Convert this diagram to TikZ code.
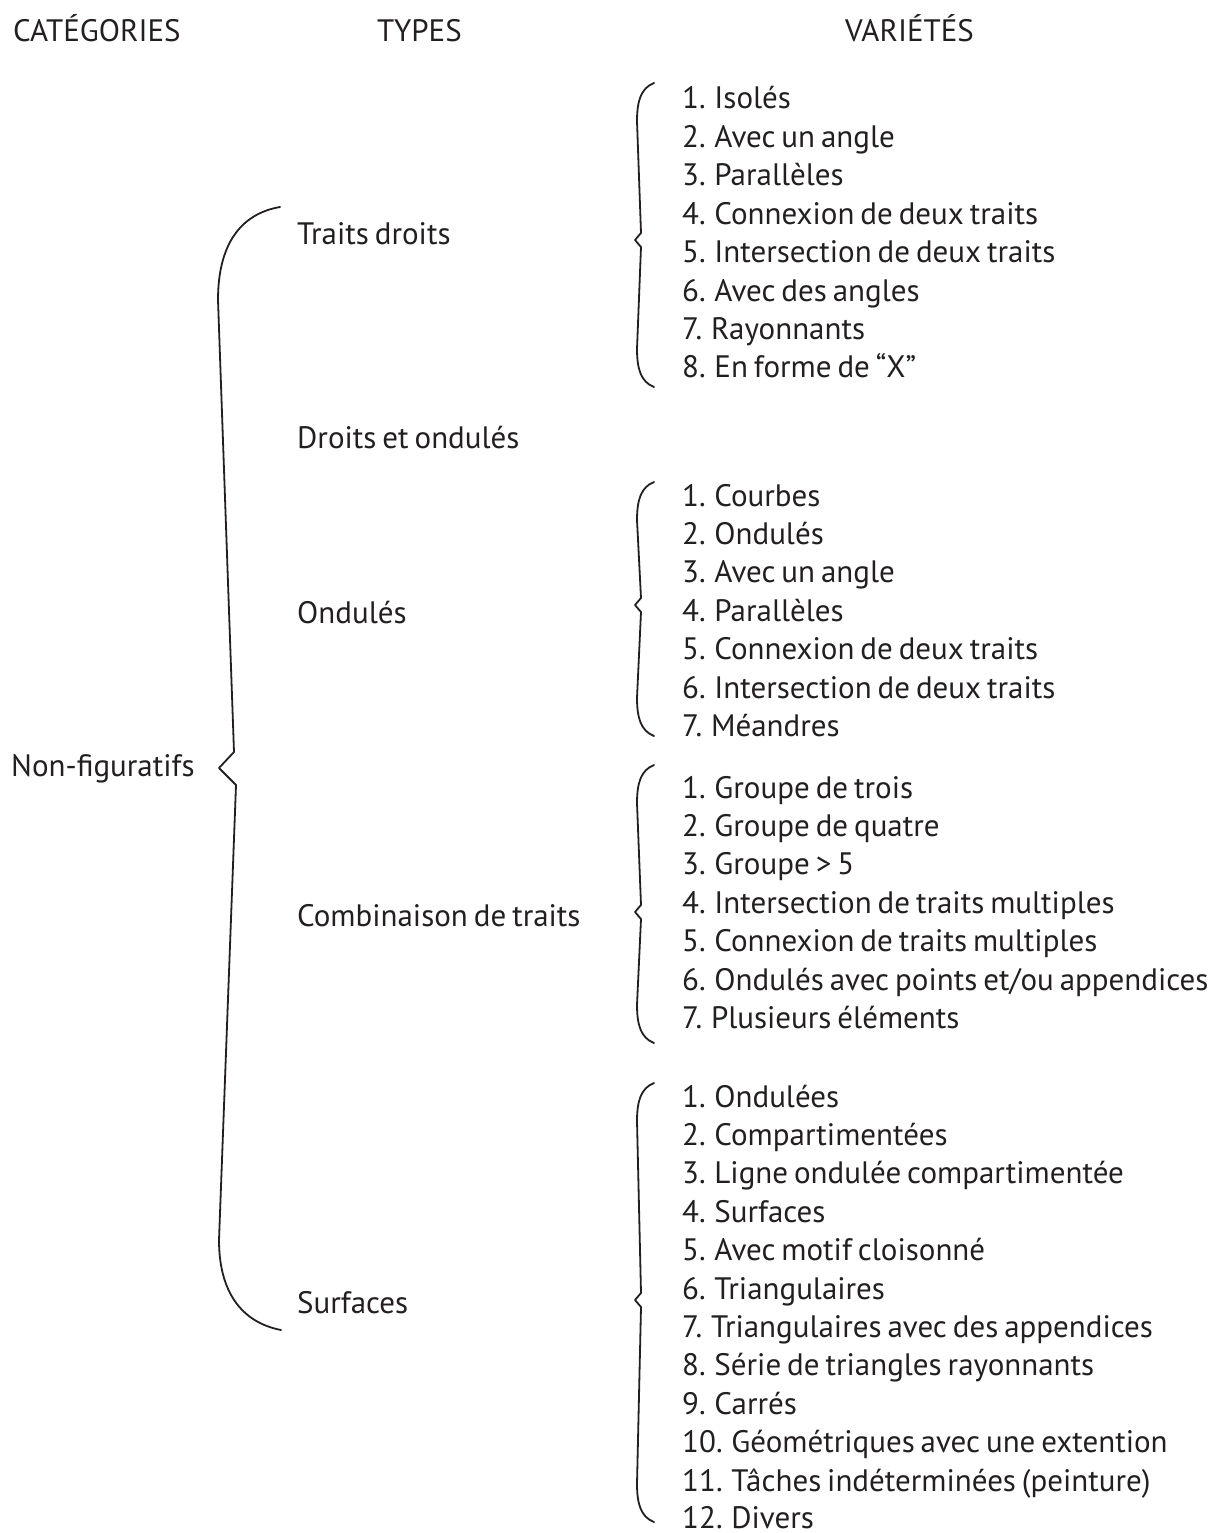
\documentclass[tikz,border=0pt]{standalone}
\usepackage{fontspec}
\setmainfont[WordSpace=0.72]{PT Sans}
\definecolor{ink}{HTML}{231F20}
\usetikzlibrary{positioning, calc}
\tikzset{
  txt/.style={anchor=base west, inner sep=0pt, text=ink,
    font=\fontsize{31}{36}\selectfont},
  hdr/.style={txt},
  cat/.style={txt},
  typ/.style={txt},
  var/.style={txt},
  brc/.style={draw=ink, line width=1.8pt, line join=round, line cap=round},
}
% small brace: top y, tip y, bottom y
\newcommand{\varbrace}[3]{%
  \draw[brc] (654,#1) .. controls (641,#1+5) and (637,#1+18) .. (637,#1+38)
    -- (641,#2-7) -- (635,#2) -- (641,#2+7) -- (637,#3-38)
    .. controls (637,#3-18) and (641,#3-5) .. (654,#3);}

\begin{document}
\begin{tikzpicture}[x=1pt, y=-1pt]
    \useasboundingbox (0,0) rectangle (1225,1533);

    % column headers
    \node[hdr] (hcat) at (13,42) {CATÉGORIES};
    \node[hdr] (htyp) at (377,42) {TYPES};
    \node[hdr] (hvar) at (845,42) {VARIÉTÉS};

    % category
    \node[cat] (nonfig) at (11,776) {Non-figuratifs};

    % types
    \node[typ] (tdroits) at (297,244) {Traits droits};
    \node[typ] (tdrond) at (297,448) {Droits et ondulés};
    \node[typ] (tondul) at (297,623) {Ondulés};
    \node[typ] (tcomb) at (297,926) {Combinaison de traits};
    \node[typ] (tsurf) at (297,1313) {Surfaces};

    % traits droits
    \node[var] (d1) at (682,109.0) {1. Isolés};
    \node[var] (d2) at (682,147.4) {2. Avec un angle};
    \node[var] (d3) at (682,185.8) {3. Parallèles};
    \node[var] (d4) at (682,224.2) {4. Connexion de deux traits};
    \node[var] (d5) at (682,262.6) {5. Intersection de deux traits};
    \node[var] (d6) at (682,301.0) {6. Avec des angles};
    \node[var] (d7) at (682,339.4) {7. Rayonnants};
    \node[var] (d8) at (682,377.8) {8. En forme de “X”};

    % ondules
    \node[var] (o1) at (682,506.0) {1. Courbes};
    \node[var] (o2) at (682,544.4) {2. Ondulés};
    \node[var] (o3) at (682,582.8) {3. Avec un angle};
    \node[var] (o4) at (682,621.2) {4. Parallèles};
    \node[var] (o5) at (682,659.6) {5. Connexion de deux traits};
    \node[var] (o6) at (682,698.0) {6. Intersection de deux traits};
    \node[var] (o7) at (682,736.4) {7. Méandres};

    % combinaison de traits
    \node[var] (c1) at (682,798.0) {1. Groupe de trois};
    \node[var] (c2) at (682,836.4) {2. Groupe de quatre};
    \node[var] (c3) at (682,874.8) {3. Groupe > 5};
    \node[var] (c4) at (682,913.2) {4. Intersection de traits multiples};
    \node[var] (c5) at (682,951.6) {5. Connexion de traits multiples};
    \node[var] (c6) at (682,990.0) {6. Ondulés avec points et/ou appendices};
    \node[var] (c7) at (682,1028.4) {7. Plusieurs éléments};

    % surfaces
    \node[var] (s1) at (682,1107.0) {1. Ondulées};
    \node[var] (s2) at (682,1145.4) {2. Compartimentées};
    \node[var] (s3) at (682,1183.8) {3. Ligne ondulée compartimentée};
    \node[var] (s4) at (682,1222.2) {4. Surfaces};
    \node[var] (s5) at (682,1260.6) {5. Avec motif cloisonné};
    \node[var] (s6) at (682,1299.0) {6. Triangulaires};
    \node[var] (s7) at (682,1337.4) {7. Triangulaires avec des appendices};
    \node[var] (s8) at (682,1375.8) {8. Série de triangles rayonnants};
    \node[var] (s9) at (682,1414.2) {9. Carrés};
    \node[var] (s10) at (682,1452.6) {10. Géométriques avec une extention};
    \node[var] (s11) at (682,1491.0) {11. Tâches indéterminées (peinture)};
    \node[var] (s12) at (682,1528.0) {12. Divers};

    % big brace
    \draw[brc] (280,207) .. controls (240,214) and (218,245) .. (218,300)
      -- (234,752) -- (219,768) -- (236,785) -- (219,1240)
      .. controls (219,1290) and (240,1322) .. (281,1330);

    % small braces
    \varbrace{83}{240}{387}
    \varbrace{482}{605}{736}
    \varbrace{765}{912}{1043}
    \varbrace{1083}{1300}{1522}
  \end{tikzpicture}
\end{document}
